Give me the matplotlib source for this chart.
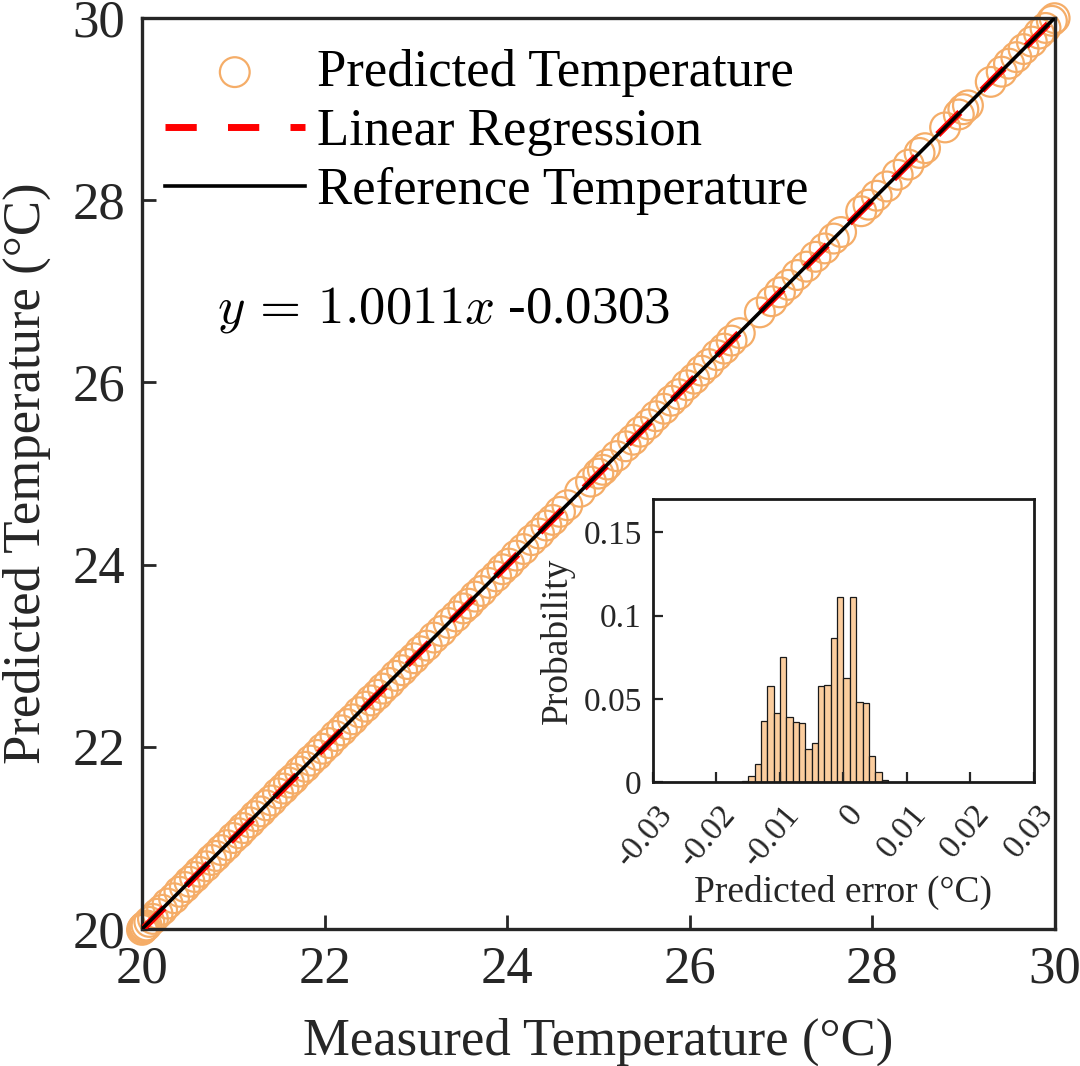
import numpy as np
import matplotlib
matplotlib.use("Agg")
import matplotlib.pyplot as plt
import matplotlib.transforms as mtransforms

plt.rcParams['font.family'] = ['Liberation Serif', 'DejaVu Serif']
plt.rcParams['mathtext.fontset'] = 'cm'

# measured vs predicted temperature (degC)
measured = [20.00, 20.01, 20.02, 20.03, 20.05, 20.08, 20.12, 20.17, 20.22, 20.28,
            20.35, 20.41, 20.47, 20.52, 20.58, 20.63, 20.70, 20.76, 20.81, 20.87,
            20.93, 21.00, 21.06, 21.11, 21.18, 21.24, 21.30, 21.36, 21.42, 21.49,
            21.55, 21.61, 21.66, 21.73, 21.79, 21.85, 21.92, 21.98, 22.05, 22.12,
            22.19, 22.25, 22.31, 22.38, 22.45, 22.51, 22.58, 22.64, 22.71, 22.78,
            22.85, 22.91, 22.98, 23.05, 23.12, 23.20, 23.28, 23.36, 23.44, 23.52,
            23.58, 23.65, 23.72, 23.80, 23.88, 23.95, 24.02, 24.10, 24.18, 24.27,
            24.35, 24.43, 24.50, 24.58, 24.66, 24.80, 24.92, 25.00, 25.05, 25.10,
            25.20, 25.30, 25.38, 25.46, 25.55, 25.63, 25.72, 25.80, 25.88, 25.97,
            26.05, 26.13, 26.21, 26.30, 26.38, 26.46, 26.55, 26.77, 26.90, 26.99,
            27.08, 27.18, 27.28, 27.38, 27.48, 27.58, 27.66, 27.88, 27.96, 28.05,
            28.16, 28.28, 28.40, 28.52, 28.58, 28.80, 28.95, 29.00, 29.05, 29.30,
            29.42, 29.50, 29.58, 29.66, 29.75, 29.83, 29.90, 29.97, 30.00]
predicted = [19.991, 20.008, 20.012, 20.029, 20.039, 20.078, 20.111, 20.168, 20.211, 20.279,
             20.338, 20.409, 20.461, 20.519, 20.571, 20.628, 20.689, 20.758, 20.802, 20.866,
             20.921, 20.999, 21.051, 21.108, 21.171, 21.239, 21.291, 21.358, 21.411, 21.489,
             21.542, 21.608, 21.651, 21.729, 21.781, 21.849, 21.911, 21.979, 22.041, 22.119,
             22.181, 22.249, 22.302, 22.379, 22.441, 22.509, 22.571, 22.639, 22.701, 22.779,
             22.841, 22.909, 22.972, 23.049, 23.111, 23.199, 23.271, 23.359, 23.431, 23.519,
             23.571, 23.649, 23.711, 23.799, 23.871, 23.949, 24.011, 24.099, 24.171, 24.269,
             24.341, 24.429, 24.491, 24.579, 24.652, 24.799, 24.911, 24.999, 25.041, 25.099,
             25.191, 25.299, 25.371, 25.459, 25.541, 25.629, 25.711, 25.799, 25.871, 25.969,
             26.041, 26.129, 26.201, 26.299, 26.371, 26.459, 26.541, 26.769, 26.891, 26.989,
             27.071, 27.179, 27.271, 27.379, 27.471, 27.579, 27.651, 27.879, 27.951, 28.049,
             28.151, 28.279, 28.391, 28.519, 28.571, 28.799, 28.941, 28.999, 29.041, 29.299,
             29.411, 29.499, 29.571, 29.659, 29.741, 29.829, 29.891, 29.969, 29.998]
slope, intercept = 1.0011, -0.0303

# histogram of prediction error
err_bin_left = [-0.016, -0.015, -0.014, -0.013, -0.012, -0.011, -0.010, -0.009,
                -0.008, -0.007, -0.006, -0.005, -0.004, -0.003, -0.002, -0.001,
                0.000, 0.001, 0.002, 0.003, 0.004, 0.005, 0.006]
err_prob = [0.0006, 0.0036, 0.0108, 0.0364, 0.0578, 0.0412, 0.0752, 0.0388,
            0.0358, 0.0352, 0.0200, 0.0232, 0.0578, 0.0582, 0.0868, 0.1114,
            0.0626, 0.1114, 0.0480, 0.0472, 0.0156, 0.0060, 0.0014]

orange = '#F5AD68'
grey = '#262626'
fig = plt.figure(figsize=(10.8, 10.66), dpi=100)
ax = fig.add_axes([0.1315, 0.1285, 0.845, 0.8546])

ax.scatter(measured, predicted, s=460, facecolors='none', edgecolors=orange,
           linewidths=1.6, label='Predicted Temperature', zorder=2, clip_on=False)
xl = np.array([20, 30])
ax.plot(xl, slope * xl + intercept, color='red', ls=(0, (4.5, 4.5)), lw=5,
        label='Linear Regression', zorder=3)
ax.plot(xl, xl, color='black', lw=2.6, label='Reference Temperature', zorder=4)

ax.set_xlim(20, 30)
ax.set_ylim(20, 30)
ax.set_xticks([20, 22, 24, 26, 28, 30])
ax.set_yticks([20, 22, 24, 26, 28, 30])
ax.tick_params(direction='in', length=10, width=2, labelsize=38, colors=grey,
               labelcolor=grey, pad=12)
for sp in ax.spines.values():
    sp.set_linewidth(2.4)
    sp.set_color(grey)
ax.set_xlabel('Measured Temperature (°C)', fontsize=38, color=grey)
ax.set_ylabel('Predicted Temperature (°C)', fontsize=38, color=grey)
ax.xaxis.set_label_coords(0.5, -0.097)
ax.yaxis.set_label_coords(-0.100, 0.5)

ax.legend(loc='upper left', bbox_to_anchor=(0.025, 0.966), frameon=False, fontsize=38,
          handlelength=2.65, handletextpad=0.24, labelspacing=0.21, borderaxespad=0,
          borderpad=0)

ax.text(0.082, 0.679, r'$y\,=\,1.0011x$ -0.0303', transform=ax.transAxes,
        fontsize=38, ha='left', va='center')

# inset histogram
ins = fig.add_axes([0.6046, 0.2664, 0.3528, 0.2655])
ins.bar(err_bin_left, err_prob, width=0.001, align='edge', color='#FBCD9E',
        edgecolor='#1a1a1a', linewidth=0.9)
ins.set_xlim(-0.03, 0.03)
ins.set_ylim(0, 0.17)
ins.set_xticks([-0.03, -0.02, -0.01, 0, 0.01, 0.02, 0.03])
ins.set_xticklabels(['-0.03', '-0.02', '-0.01', '0', '0.01', '0.02', '0.03'])
ins.set_yticks([0, 0.05, 0.1, 0.15])
ins.set_yticklabels(['0', '0.05', '0.1', '0.15'])
ins.tick_params(direction='in', length=7, width=1.6, labelsize=24, colors=grey,
                top=False, right=False)
ins.tick_params(axis='x', pad=19.5)
ins.tick_params(axis='y', pad=8)
for sp in ins.spines.values():
    sp.set_linewidth(2)
    sp.set_color('#1a1a1a')
shift = mtransforms.ScaledTranslation(10 / 72, 0, fig.dpi_scale_trans)
for lab in ins.get_xticklabels():
    lab.set_rotation(50)
    lab.set_ha('right')
    lab.set_va('center')
    lab.set_rotation_mode('anchor')
    lab.set_transform(lab.get_transform() + shift)
ins.set_xlabel('Predicted error (°C)', fontsize=27, color=grey)
ins.set_ylabel('Probability', fontsize=27, color=grey)
ins.xaxis.set_label_coords(0.5, -0.329)
ins.yaxis.set_label_coords(-0.205, 0.5)

fig.savefig('out.png', dpi=100)
